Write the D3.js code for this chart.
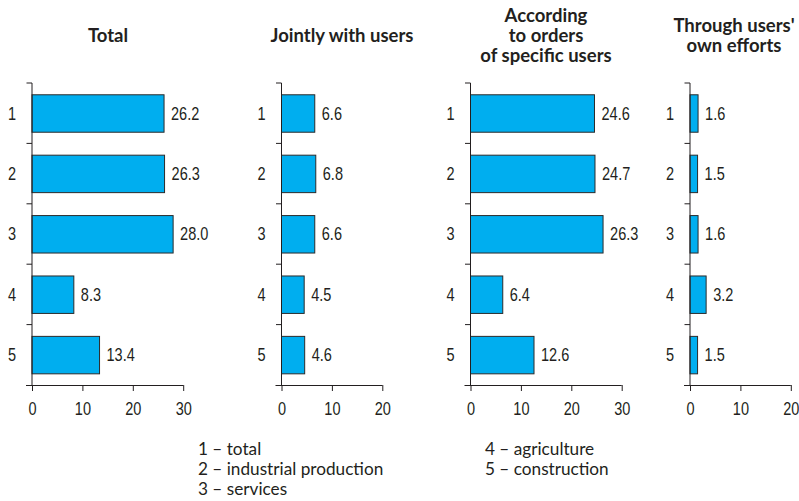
<!DOCTYPE html>
<html>
<head>
<meta charset="utf-8">
<script src="https://cdn.jsdelivr.net/npm/d3@7"></script>
<style>
  html, body { margin: 0; padding: 0; background: #fff; }
  svg { display: block; }
  .num { font-family: "Liberation Sans", Arial, sans-serif; font-size: 17.5px; fill: #231f20; }
  .title { font-family: Lato, "Open Sans", sans-serif; font-weight: 700; font-size: 18.5px; fill: #231f20; }
  .legend { font-family: Lato, "Open Sans", sans-serif; font-size: 17.2px; fill: #231f20; }
</style>
</head>
<body>
<script>
// Sectors (rows) and their legend texts
const categories = ["1", "2", "3", "4", "5"];
const legendItems = ["1 – total", "2 – industrial production", "3 – services", "4 – agriculture", "5 – construction"];

// Shares by way of development, per sector
const totalValues   = [26.2, 26.3, 28.0, 8.3, 13.4];
const jointlyValues = [6.6, 6.8, 6.6, 4.5, 4.6];
const ordersValues  = [24.6, 24.7, 26.3, 6.4, 12.6];
const ownValues     = [1.6, 1.5, 1.6, 3.2, 1.5];

// Panel titles and axis tick values
const panelTitles = [
  ["Total"],
  ["Jointly with users"],
  ["According", "to orders", "of specific users"],
  ["Through users'", "own efforts"]
];
const ticks30 = [0, 10, 20, 30];
const ticks20 = [0, 10, 20];

const W = 799, H = 501;
const pxPerUnit = 5.04;
const plotTop = 83, plotBottom = 385;
const barColor = "#00aeef";
const ink = "#231f20";
const narrow = 0.83; // horizontal squeeze for a condensed look of the numerals

const panels = [
  { values: totalValues,   x0: 32,    max: 30, ticks: ticks30, title: panelTitles[0], titleX: 108 },
  { values: jointlyValues, x0: 281.5, max: 20, ticks: ticks20, title: panelTitles[1], titleX: 342 },
  { values: ordersValues,  x0: 470.5, max: 30, ticks: ticks30, title: panelTitles[2], titleX: 546 },
  { values: ownValues,     x0: 690,   max: 20, ticks: ticks20, title: panelTitles[3], titleX: 734 }
];

const svg = d3.select("body").append("svg").attr("width", W).attr("height", H);

const y = d3.scaleBand().domain(categories).range([plotTop, plotBottom]).padding(0);
const step = y.step();
const barInset = step * 0.195, barH = step * 0.62;

panels.forEach(p => {
  const x = d3.scaleLinear().domain([0, p.max]).range([p.x0, p.x0 + p.max * pxPerUnit]);
  const g = svg.append("g");

  // Title, lines stacked around a common middle
  const lineH = 20;
  const midBaseline = 42;
  const n = p.title.length;
  const t = g.append("text").attr("class", "title").attr("text-anchor", "middle");
  p.title.forEach((line, i) => {
    t.append("tspan")
      .attr("x", p.titleX)
      .attr("y", midBaseline + (i - (n - 1) / 2) * lineH)
      .text(line);
  });

  // Bars
  g.selectAll("rect.bar").data(p.values).join("rect")
    .attr("class", "bar")
    .attr("x", x(0))
    .attr("y", (d, i) => y(categories[i]) + barInset)
    .attr("width", d => x(d) - x(0))
    .attr("height", barH)
    .attr("fill", barColor)
    .attr("stroke", "#2b2b2b")
    .attr("stroke-width", 1);

  // Value labels
  g.selectAll("text.val").data(p.values).join("text")
    .attr("class", "num val")
    .attr("transform", (d, i) => `translate(${x(d) + 7},${y(categories[i]) + step / 2}) scale(${narrow},1)`)
    .attr("dy", "0.36em")
    .text(d => d.toFixed(1));

  // Vertical axis with ticks at row boundaries
  g.append("line")
    .attr("x1", x(0)).attr("x2", x(0))
    .attr("y1", plotTop).attr("y2", plotBottom)
    .attr("stroke", ink).attr("stroke-width", 1);
  categories.forEach(c => {
    g.append("line")
      .attr("x1", x(0) - 5.5).attr("x2", x(0))
      .attr("y1", y(c)).attr("y2", y(c))
      .attr("stroke", ink).attr("stroke-width", 1);
  });

  // Category labels
  g.selectAll("text.cat").data(categories).join("text")
    .attr("class", "num cat")
    .attr("transform", c => `translate(${x(0) - 20},${y(c) + step / 2}) scale(${narrow},1)`)
    .attr("dy", "0.36em")
    .attr("text-anchor", "middle")
    .text(c => c);

  // Horizontal axis
  const axis = g.append("g")
    .attr("transform", `translate(0,${plotBottom})`)
    .call(d3.axisBottom(x).tickValues(p.ticks).tickSize(6).tickPadding(6).tickSizeOuter(0));
  axis.attr("font-family", null).attr("font-size", null);
  axis.select(".domain")
    .attr("d", `M${x(0) - 6},0.5H${x(p.max)}`)
    .attr("stroke", ink);
  axis.selectAll(".tick line").attr("stroke", ink);
  axis.selectAll(".tick text")
    .attr("class", "num")
    .attr("transform", `scale(${narrow},1)`)
    .attr("dy", "1.05em");
});

// Legend
const legendPos = [
  { x: 198, y: 455 }, { x: 198, y: 475 }, { x: 198, y: 495 },
  { x: 485, y: 455 }, { x: 485, y: 475 }
];
svg.append("g").selectAll("text").data(legendItems).join("text")
  .attr("class", "legend")
  .attr("x", (d, i) => legendPos[i].x)
  .attr("y", (d, i) => legendPos[i].y)
  .text(d => d);
</script>
</body>
</html>
